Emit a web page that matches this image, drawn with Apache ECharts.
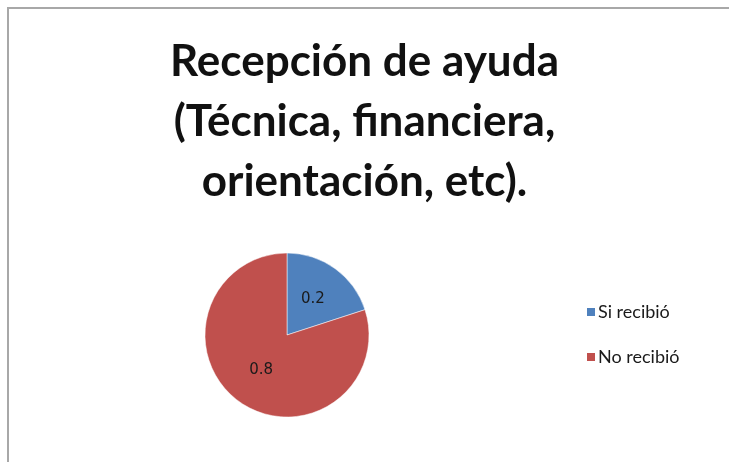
<!DOCTYPE html>
<html>
<head>
<meta charset="utf-8">
<script src="https://cdn.jsdelivr.net/npm/echarts@6/dist/echarts.min.js"></script>
<style>
  html, body { margin: 0; padding: 0; background: #fff; }
  #main { width: 729px; height: 462px; }
</style>
</head>
<body>
<div id="main"></div>
<script>
const titleText = 'Recepción de ayuda\n(Técnica, financiera,\norientación, etc).';
const categories = ['Si recibió', 'No recibió'];
const values = [0.2, 0.8];
const colors = ['#4F81BD', '#C0504D'];

const chart = echarts.init(document.getElementById('main'));
const option = {
    backgroundColor: '#fff',
    animation: false,
    color: colors,
    title: {
        text: titleText,
        left: 'center',
        top: 27,
        textStyle: {
            fontFamily: 'Lato',
            fontWeight: 'bold',
            fontSize: 44,
            lineHeight: 60,
            color: '#111'
        }
    },
    legend: {
        orient: 'vertical',
        left: 580,
        top: 298,
        itemWidth: 10,
        itemHeight: 10,
        itemGap: 27,
        icon: 'rect',
        data: categories,
        textStyle: { fontFamily: 'Lato', fontSize: 18, color: '#1a1a1a', padding: [0, 0, 0, -3] }
    },
    graphic: [
        {
            type: 'rect',
            shape: { x: 8, y: 8, width: 900, height: 600 },
            style: { fill: 'none', stroke: '#a8a8a8', lineWidth: 2 }
        }
    ],
    series: [
        {
            type: 'pie',
            center: [287, 335],
            radius: 82,
            startAngle: 90,
            clockwise: true,
            label: {
                position: 'inner',
                fontFamily: 'DejaVu Sans',
                fontSize: 15,
                color: '#1a1a1a',
                formatter: p => String(p.value)
            },
            labelLine: { show: false },
            itemStyle: { borderColor: '#fff', borderWidth: 0.5 },
            emphasis: { disabled: true },
            data: categories.map((c, i) => ({ name: c, value: values[i] }))
        }
    ]
};
chart.setOption(option);
</script>
</body>
</html>
